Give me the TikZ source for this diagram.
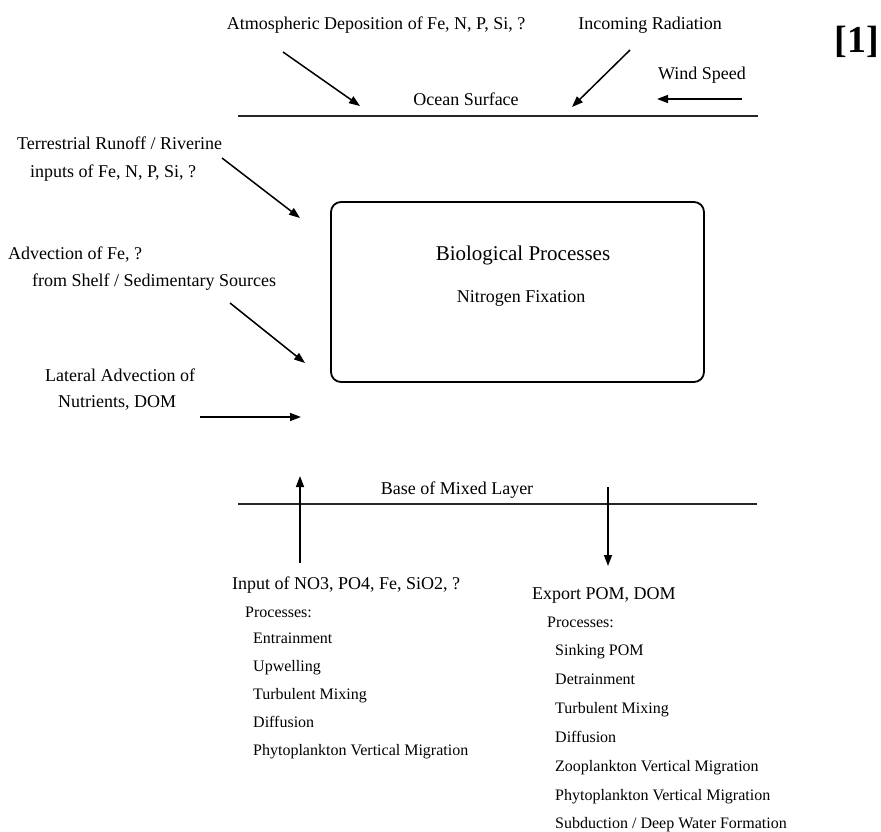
\documentclass[tikz,border=0pt]{standalone}
\usepackage{fontspec}
\setmainfont{Liberation Serif}
\usetikzlibrary{arrows.meta}
\begin{document}
\begin{tikzpicture}[x=1pt,y=-1pt,
  lbl/.style={inner sep=0pt,text height=12.5pt,text depth=3.5pt,font=\fontsize{18}{20}\selectfont},
  lst/.style={inner sep=0pt,anchor=west,text height=11pt,text depth=3pt,font=\fontsize{16}{18}\selectfont},
  hdr/.style={inner sep=0pt,anchor=west,text height=12.5pt,text depth=3.5pt,font=\fontsize{18}{20}\selectfont},
  level/.style={line width=2.4pt,draw=black!85},
  flow/.style={line width=1.5pt,-{Triangle[length=11pt,width=8pt]}},
  biobox/.style={draw,line width=1.8pt,rounded corners=10pt}]
\useasboundingbox (0,0) rectangle (881,832);
\fill[white] (0,0) rectangle (881,832);

% top labels
\node[lbl] (atm) at (376,25) {Atmospheric Deposition of Fe, N, P, Si, ?};
\node[lbl] (rad) at (650,25) {Incoming Radiation};
\node[lbl] (wind) at (702,75) {Wind Speed};
\node[inner sep=0pt,font=\fontsize{38}{40}\selectfont\bfseries] (ref) at (857,42) {[1]};

% ocean surface
\coordinate (osL) at (238,116);
\coordinate (osR) at (758,116);
\draw[level] (osL) -- (osR);
\node[lbl] (oslbl) at (466,101) {Ocean Surface};

\coordinate (atmS) at (283,52);
\coordinate (atmE) at (360,106);
\coordinate (radS) at (630,50);
\coordinate (radE) at (572,107);
\coordinate (windS) at (742,99);
\coordinate (windE) at (657,99);
\draw[flow] (atmS) -- (atmE);
\draw[flow] (radS) -- (radE);
\draw[flow] (windS) -- (windE);

% box
\node[biobox,minimum width=373pt,minimum height=180pt,inner sep=0pt] (bio) at (517.5,292) {};
\node[inner sep=0pt,text height=14.5pt,text depth=4pt,font=\fontsize{21}{24}\selectfont] (biot) at (523,255) {Biological Processes};
\node[lbl] (nfix) at (521,298) {Nitrogen Fixation};

% left side inputs
\node[hdr] (ter1) at (17,145) {Terrestrial Runoff / Riverine};
\node[hdr] (ter2) at (30,173) {inputs of Fe, N, P, Si, ?};
\node[hdr] (adv1) at (8,255) {Advection of Fe, ?};
\node[hdr] (adv2) at (32,282) {from Shelf / Sedimentary Sources};
\node[hdr] (lat1) at (45,377) {Lateral Advection of};
\node[hdr] (lat2) at (58,403) {Nutrients, DOM};

\coordinate (terS) at (222,158);
\coordinate (terE) at (300,218);
\coordinate (advS) at (230,303);
\coordinate (advE) at (305,363);
\coordinate (latS) at (200,417);
\coordinate (latE) at (301,417);
\draw[flow] (terS) -- (terE);
\draw[flow] (advS) -- (advE);
\draw[flow] (latS) -- (latE);

% base of mixed layer
\coordinate (bmL) at (238,504);
\coordinate (bmR) at (757,504);
\draw[level] (bmL) -- (bmR);
\node[lbl] (bmlbl) at (457,490) {Base of Mixed Layer};

\coordinate (upS) at (300,563);
\coordinate (upE) at (300,476);
\coordinate (dnS) at (608,487);
\coordinate (dnE) at (608,566);
\draw[flow] (upS) -- (upE);
\draw[flow] (dnS) -- (dnE);

% left list
\node[hdr] (inp) at (232,585) {Input of NO3, PO4, Fe, SiO2, ?};
\node[lst] (lp) at (245,613) {Processes:};
\node[lst] (l1) at (253,639) {Entrainment};
\node[lst] (l2) at (253,667) {Upwelling};
\node[lst] (l3) at (253,695) {Turbulent Mixing};
\node[lst] (l4) at (253,723) {Diffusion};
\node[lst] (l5) at (253,751) {Phytoplankton Vertical Migration};

% right list
\node[hdr] (exp) at (532,595) {Export POM, DOM};
\node[lst] (rp) at (547,623) {Processes:};
\node[lst] (r1) at (555,651) {Sinking POM};
\node[lst] (r2) at (555,680) {Detrainment};
\node[lst] (r3) at (555,709) {Turbulent Mixing};
\node[lst] (r4) at (555,738) {Diffusion};
\node[lst] (r5) at (555,767) {Zooplankton Vertical Migration};
\node[lst] (r6) at (555,796) {Phytoplankton Vertical Migration};
\node[lst] (r7) at (555,824) {Subduction / Deep Water Formation};
\end{tikzpicture}
\end{document}
